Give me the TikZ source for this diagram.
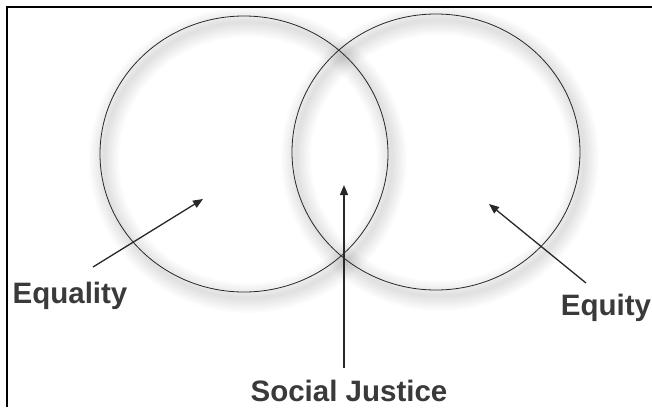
\documentclass[tikz,border=0pt]{standalone}
\usepackage{fontspec}
\setmainfont{Liberation Sans}
\usetikzlibrary{arrows.meta,shapes.geometric}
\definecolor{labelgray}{RGB}{58,58,58}
\definecolor{rimgray}{RGB}{40,40,40}
\tikzset{
  venn/.style={ellipse, draw=rimgray, line width=0.8pt, minimum width=288pt, minimum height=276pt, inner sep=0pt},
  vennshadow/.style={black, opacity=0.011},
  lbl/.style={font=\fontsize{29.5}{32}\selectfont\bfseries, text=labelgray, inner sep=0pt, anchor=base},
  ptr/.style={-{Triangle[length=10pt,width=8pt]}, draw=rimgray, line width=1.3pt},
}

\begin{document}
\begin{tikzpicture}[x=1pt,y=-1pt]
  \useasboundingbox (0,0) rectangle (652,407);
  \fill[white] (0,0) rectangle (652,407);
  % soft shadows round both rings
  \foreach \cx/\cy in {244/154, 436/152}
    \foreach \w in {3,6,...,30}
      \draw[vennshadow, line width=\w pt] (\cx+4,\cy+6) ellipse [x radius=144, y radius=138];
  \node[venn] (equalityset) at (244,154) {};
  \node[venn] (equityset) at (436,152) {};
  \draw[line width=2pt] (7,407) -- (7,7) -- (652,7);
  \node[lbl] (equality) at (70,303) {Equality};
  \node[lbl] (equity) at (606,315) {Equity};
  \node[lbl] (justice) at (349,401) {Social Justice};
  \coordinate (equalitytail) at (93,267);
  \coordinate (equalitytip) at (203,199);
  \coordinate (equitytail) at (586,283);
  \coordinate (equitytip) at (489,204);
  \coordinate (justicetail) at (344,368);
  \coordinate (justicetip) at (344,185);
  \draw[ptr] (equalitytail) -- (equalitytip);
  \draw[ptr] (equitytail) -- (equitytip);
  \draw[ptr] (justicetail) -- (justicetip);
\end{tikzpicture}
\end{document}
